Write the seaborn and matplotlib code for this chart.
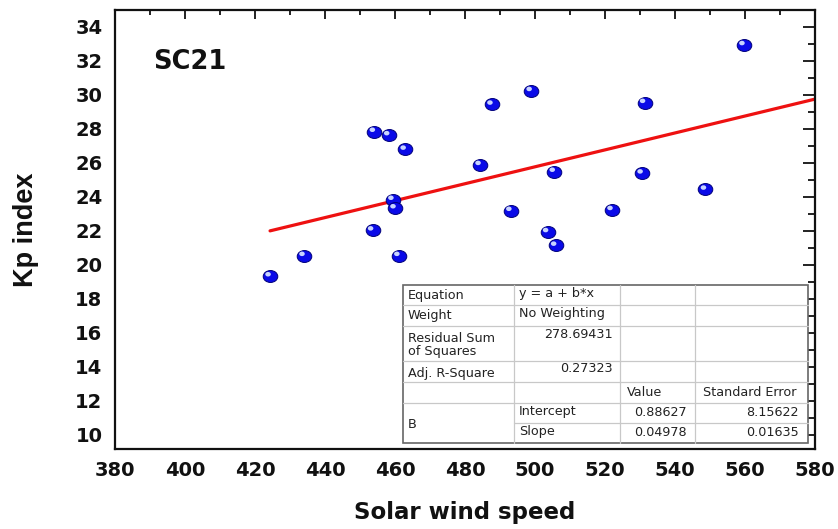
import numpy as np
import pandas as pd
import matplotlib
matplotlib.use("Agg")
import matplotlib.pyplot as plt
import seaborn as sns
from matplotlib.path import Path
from matplotlib.transforms import ScaledTranslation, Affine2D
from matplotlib.ticker import MultipleLocator
from matplotlib.patches import Rectangle
from matplotlib.lines import Line2D

# ---------------- data ----------------
solar_wind_speed = [424.3, 434.0, 453.6, 454.1, 458.2, 462.9, 459.4, 460.0, 461.1,
                    484.3, 487.7, 498.9, 493.1, 531.3, 559.7, 505.5, 530.6, 548.7,
                    522.0, 503.6, 505.9]
kp_index = [19.35, 20.55, 22.05, 27.85, 27.65, 26.8, 23.85, 23.35, 20.55,
            25.9, 29.45, 30.25, 23.2, 29.55, 32.95, 25.5, 25.4, 24.45,
            23.25, 21.95, 21.15]
intercept = 0.88627
slope = 0.04978
panel_label = "SC21"
x_label = "Solar wind speed"
y_label = "Kp index"
x_ticks = list(range(380, 581, 20))
y_ticks = list(range(10, 35, 2))

table_col1 = ["Equation", "Weight", "Residual Sum\nof Squares", "Adj. R-Square", "", "B", ""]
table_col2 = ["y = a + b*x", "No Weighting", "278.69431", "0.27323", "", "Intercept", "Slope"]
table_col3 = ["", "", "", "", "Value", "0.88627", "0.04978"]
table_col4 = ["", "", "", "", "Standard Error", "8.15622", "0.01635"]

df = pd.DataFrame({"speed": solar_wind_speed, "kp": kp_index})

# ---------------- figure ----------------
sns.set_style("white")
plt.rcParams["font.family"] = ["DejaVu Sans"]

W, H = 838, 529
fig = plt.figure(figsize=(W / 100, H / 100), dpi=100)
AX_L, AX_R, AX_T, AX_B = 115, 815, 10, 449
ax = fig.add_axes([AX_L / W, 1 - AX_B / H, (AX_R - AX_L) / W, (AX_B - AX_T) / H])

# fit line
x_line = np.array([min(solar_wind_speed), 580.0])
y_line = intercept + slope * x_line
sns.lineplot(x=x_line, y=y_line, ax=ax, color="#ee1111", linewidth=2.3, zorder=2)

# sphere-like markers
ell = Affine2D().scale(1.0, 0.82).transform_path(Path.unit_circle())
sns.scatterplot(data=df, x="speed", y="kp", ax=ax, marker=ell, s=110,
                color="#0a0ae8", edgecolor="#00007a", linewidth=0.7, zorder=3,
                legend=False)
hl = ax.transData + ScaledTranslation(-0.02, 0.018, fig.dpi_scale_trans)
sns.scatterplot(data=df, x="speed", y="kp", ax=ax, marker=ell, s=16,
                color="#c8d4ff", edgecolor="none", linewidth=0, zorder=4,
                transform=hl, legend=False)

ax.set_xlim(380, 580)
ax.set_ylim(35 - (AX_B - AX_T) / 17.0, 35)
ax.set_xticks(x_ticks)
ax.set_yticks(y_ticks)
ax.xaxis.set_minor_locator(MultipleLocator(10))
ax.yaxis.set_minor_locator(MultipleLocator(1))

for sp in ax.spines.values():
    sp.set_visible(True)
    sp.set_color("#111111")
    sp.set_linewidth(1.6)

ax.tick_params(which="both", direction="in", top=True, right=True,
               color="#111111", width=1.3)
ax.tick_params(axis="x", which="major", length=6.5, pad=9)
ax.tick_params(axis="x", which="minor", length=3.5)
ax.tick_params(axis="y", which="major", length=8.5, pad=9)
ax.tick_params(axis="y", which="minor", length=5)
for lab in ax.get_xticklabels() + ax.get_yticklabels():
    lab.set_fontsize(14)
    lab.set_fontweight("bold")
    lab.set_color("#111111")

ax.set_xlabel(x_label, fontsize=16.5, fontweight="bold", labelpad=15, color="#111111")
ax.set_ylabel(y_label, fontsize=19.5, fontweight="bold", labelpad=26, color="#111111",
              family=["Liberation Sans", "DejaVu Sans"])

ax.text((190 - AX_L) / (AX_R - AX_L), (AX_B - 62) / (AX_B - AX_T), panel_label,
        transform=ax.transAxes, fontsize=18.5, fontweight="bold",
        ha="center", va="center", color="#111111")

# ---------------- statistics table ----------------
def fx(px):
    return (px - AX_L) / (AX_R - AX_L)

def fy(py):
    return (AX_B - py) / (AX_B - AX_T)

col_edges = [403, 514, 620, 695, 808]
row_edges = [285, 305, 326, 361, 382, 403, 423, 443]
T = ax.transAxes

ax.add_patch(Rectangle((fx(col_edges[0]), fy(row_edges[-1])),
                       fx(col_edges[-1]) - fx(col_edges[0]),
                       fy(row_edges[0]) - fy(row_edges[-1]),
                       transform=T, facecolor="white", edgecolor="#666666",
                       linewidth=1.2, zorder=5))
inner = "#c8c8c8"
for i, yy in enumerate(row_edges[1:-1], start=1):
    x_start = col_edges[1] if i == 6 else col_edges[0]
    ax.add_line(Line2D([fx(x_start), fx(col_edges[-1])], [fy(yy), fy(yy)],
                       transform=T, color=inner, linewidth=0.9, zorder=6))
for xx in col_edges[1:-1]:
    ax.add_line(Line2D([fx(xx), fx(xx)], [fy(row_edges[0]), fy(row_edges[-1])],
                       transform=T, color=inner, linewidth=0.9, zorder=6))

tkw = dict(transform=T, fontsize=9.2, color="#222222", va="center", zorder=7)
row_y1 = [295, 315, 345, 373, 393, 424, 433]
for i, txt in enumerate(table_col1):
    if txt:
        ax.text(fx(408), fy(row_y1[i]), txt, ha="left", linespacing=1.05, **tkw)

col2_y = [294, 314, 335, 369, 393, 412, 432]
for i, txt in enumerate(table_col2):
    if not txt:
        continue
    if i in (2, 3):
        ax.text(fx(613), fy(col2_y[i]), txt, ha="right", **tkw)
    else:
        ax.text(fx(519), fy(col2_y[i]), txt, ha="left", **tkw)

for i, txt in enumerate(table_col3):
    if not txt:
        continue
    if i == 4:
        ax.text(fx(645), fy(col2_y[i]), txt, ha="center", **tkw)
    else:
        ax.text(fx(687), fy(col2_y[i]), txt, ha="right", **tkw)

for i, txt in enumerate(table_col4):
    if not txt:
        continue
    if i == 4:
        ax.text(fx(750), fy(col2_y[i]), txt, ha="center", **tkw)
    else:
        ax.text(fx(799), fy(col2_y[i]), txt, ha="right", **tkw)

fig.savefig("out.png", dpi=100)
